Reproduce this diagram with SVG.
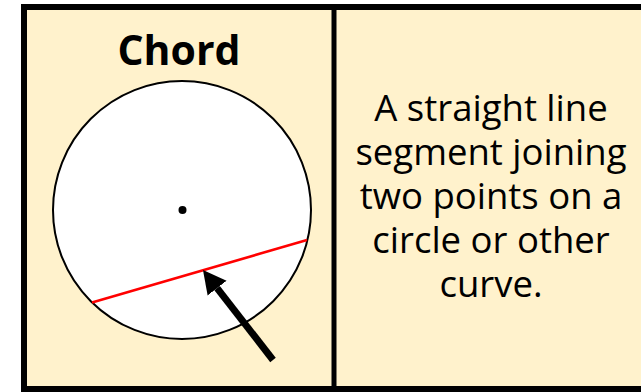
<svg xmlns="http://www.w3.org/2000/svg" width="641" height="392" viewBox="0 0 641 392">
<style>
.t{font-family:"Open Sans","Noto Sans",sans-serif;fill:#000;text-anchor:middle}
.title{font-size:41px;font-weight:bold}
.body{font-size:36.5px}
</style>
<defs>
<marker id="ah" markerUnits="userSpaceOnUse" markerWidth="24" markerHeight="26" refX="0" refY="12" orient="auto" viewBox="0 0 24 24">
<path d="M0,0 L23,12 L0,24 Z" fill="#000"/>
</marker>
</defs>
<rect width="641" height="392" fill="#fff"/>
<g id="frame">
<rect x="24" y="7" width="640" height="382" fill="#fff2cc" stroke="#000" stroke-width="6"/>
<line x1="334" y1="7" x2="334" y2="389" stroke="#000" stroke-width="5"/>
</g>
<g id="title"><text class="t title" x="179" y="65">Chord</text></g>
<g id="circle">
<circle cx="182" cy="210" r="129" fill="#fff" stroke="#000" stroke-width="2"/>
<circle cx="182.5" cy="210" r="4" fill="#000"/>
</g>
<g id="chord"><line x1="92" y1="302.5" x2="307" y2="240" stroke="#ff0000" stroke-width="2.5"/></g>
<g id="connectors"><line x1="273" y1="360" x2="217.1" y2="288.1" stroke="#000" stroke-width="7" marker-end="url(#ah)"/></g>
<g id="definition">
<text class="t body" x="491" y="121">A straight line</text>
<text class="t body" x="491" y="165">segment joining</text>
<text class="t body" x="491" y="209">two points on a</text>
<text class="t body" x="491" y="253">circle or other</text>
<text class="t body" x="491" y="297">curve.</text>
</g>
</svg>
